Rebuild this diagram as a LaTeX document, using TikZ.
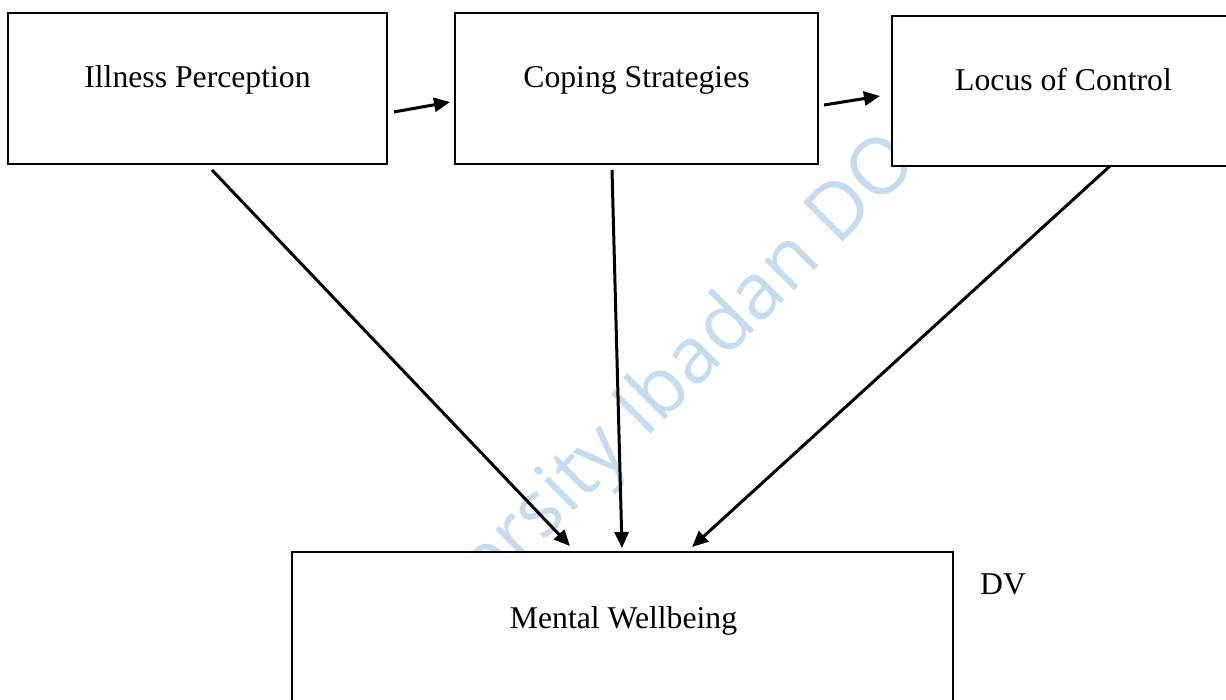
\documentclass[tikz,border=0pt]{standalone}
\usepackage{fontspec}
\setmainfont{Liberation Serif}
\newfontfamily\wmfont{Open Sans}
\usetikzlibrary{arrows.meta}
\definecolor{wmblue}{RGB}{197,219,239}
\tikzset{
  box/.style={draw=black, line width=1pt, fill=white, inner sep=0pt, outer sep=0pt},
  lbl/.style={inner sep=0pt, anchor=base, font=\fontsize{15.85}{19}\selectfont},
  arr/.style={line width=1.5pt, -{Triangle[length=8pt,width=7pt]}},
  wm/.style={inner sep=0pt, text=wmblue, rotate=45, font=\wmfont\fontsize{39}{42}\selectfont}
}
\begin{document}
\begin{tikzpicture}[x=0.5pt, y=-0.5pt]
\useasboundingbox (0,0) rectangle (1226,700);
\clip (0,0) rectangle (1226,700);
% watermark
\node[wm, anchor=base west] (wmb) at (645,440) {Ibadan DO};
\node[wm, anchor=base east] (wma) at ([xshift=-7.2pt,yshift=-7.2pt]wmb.base west) {University};
% boxes
\node[box, minimum width=189.5pt, minimum height=75.75pt] (ip) at (197.5,88.75) {};
\node[box, minimum width=181.5pt, minimum height=75.5pt] (cs) at (636.5,88.5) {};
\node[box, minimum width=172.5pt, minimum height=75pt] (lc) at (1064,91) {};
\node[box, minimum width=330.5pt, minimum height=84.25pt] (mw) at (622.5,635.75) {};
% texts
\node[lbl] (iptxt) at (197.5,88) {Illness Perception};
\node[lbl] (cstxt) at (636.5,88) {Coping Strategies};
\node[lbl] (lctxt) at (1063.5,91) {Locus of Control};
\node[lbl] (mwtxt) at (623.5,628) {Mental Wellbeing};
\node[lbl] (dv) at (1003,594) {DV};
% connectors
\draw[arr] ([xshift=3.5pt,yshift=-11.6pt]ip.east) -- ([xshift=-2.5pt,yshift=-6.75pt]cs.west);
\draw[arr] ([xshift=3pt,yshift=-8.25pt]cs.east) -- ([xshift=-5.75pt,yshift=-2.5pt]lc.west);
\draw[arr] ([xshift=7.25pt,yshift=-2.75pt]ip.south) -- ([xshift=-26.25pt,yshift=2.75pt]mw.north);
\draw[arr] ([xshift=-12.25pt,yshift=-3pt]cs.south) -- ([xshift=-0.25pt,yshift=1.75pt]mw.north);
\draw[arr] ([xshift=23pt,yshift=0pt]lc.south) -- ([xshift=34.75pt,yshift=2.25pt]mw.north);
\end{tikzpicture}
\end{document}
